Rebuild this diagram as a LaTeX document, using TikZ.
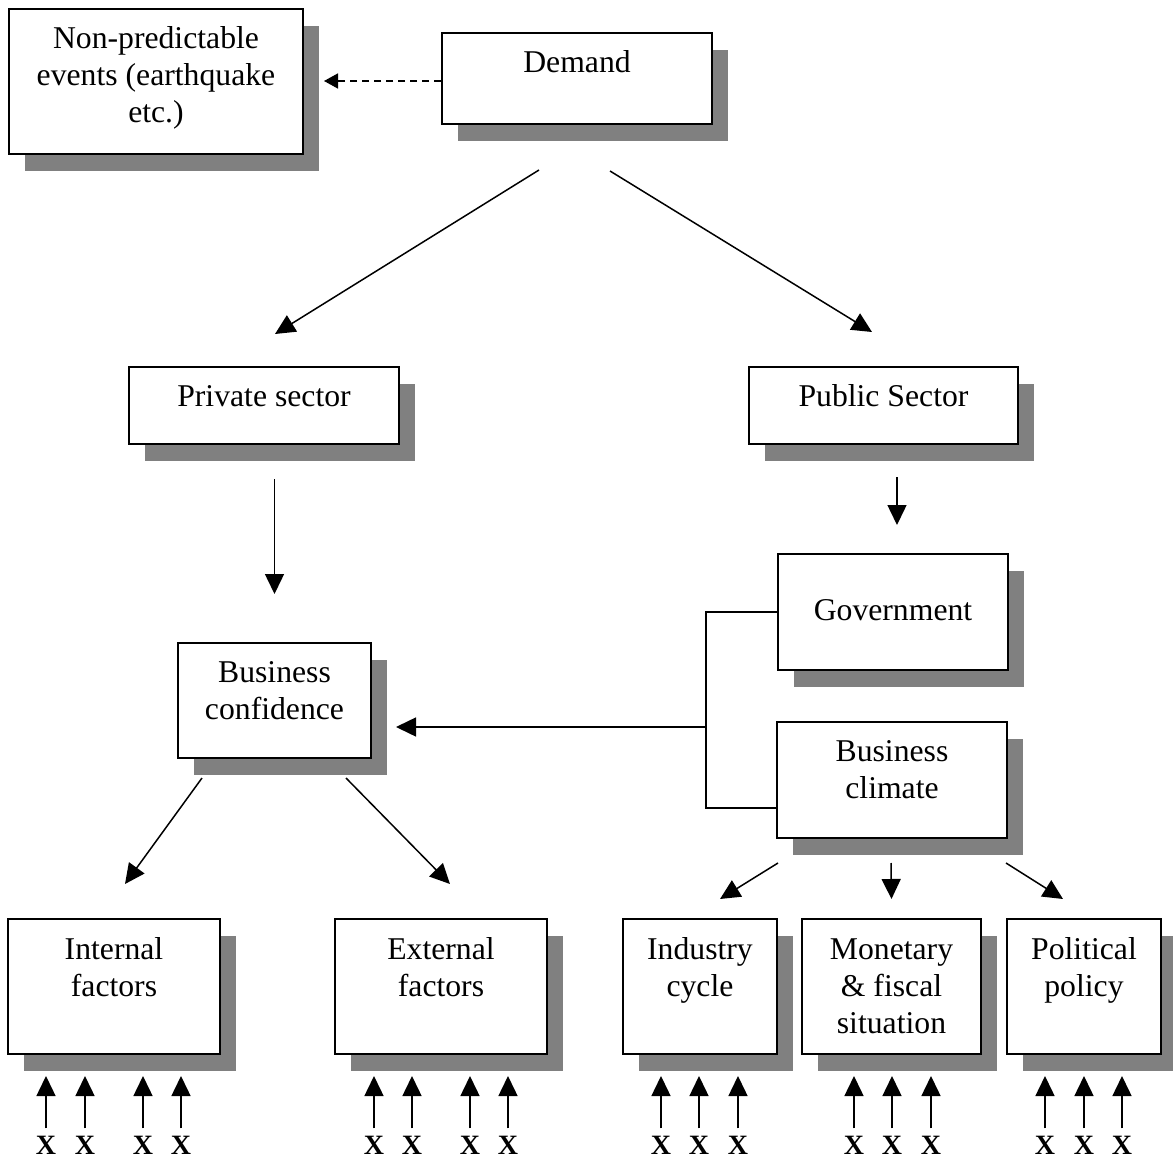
\documentclass[tikz,border=0pt]{standalone}
\usepackage{fontspec}
\setmainfont{Liberation Serif}[BoldFont={Liberation Serif Bold}]
\usetikzlibrary{arrows.meta}
\definecolor{shadowgray}{RGB}{128,128,128}

\tikzset{
  boxframe/.style={draw=black, line width=2pt, fill=white, inner sep=0pt},
  boxtext/.style={anchor=north, align=center, inner sep=0pt,
                  font=\fontsize{31.7}{37}\selectfont},
  arr/.style={line width=1.5pt, -{Triangle[length=20pt,width=19pt]}},
  dasharr/.style={line width=1.5pt, dash pattern=on 7pt off 5pt,
                  -{Triangle[length=14pt,width=15pt]}},
  conn/.style={line width=2pt},
  xmark/.style={anchor=base, inner sep=0pt,
                font=\fontsize{28}{32}\selectfont\bfseries},
}

% box with drop shadow: name, x1, y1, x2, y2, text offset from top, text
\newcommand\flowbox[7]{%
  \fill[shadowgray] (#2+16,#3+17) rectangle (#4+16,#5+17);
  \node[boxframe, minimum width={(#4-#2)*1pt}, minimum height={(#5-#3)*1pt}]
       (#1) at ({(#2+#4)/2},{(#3+#5)/2}) {};
  \node[boxtext] (#1-text) at ([yshift=-#6pt]#1.north) {\strut #7};
}

\begin{document}
\begin{tikzpicture}[x=1pt, y=-1pt]
\useasboundingbox (0,0) rectangle (1173,1158);

% top row
\flowbox{events}{9}{9}{303}{154}{14.6}{Non-predictable\\events (earthquake\\etc.)}
\flowbox{demand}{442}{33}{712}{124}{14.6}{Demand}

% sectors
\flowbox{private}{129}{367}{399}{444}{14.6}{Private sector}
\flowbox{public}{749}{367}{1018}{444}{14.6}{Public Sector}

% middle level
\flowbox{gov}{778}{554}{1008}{670}{41.1}{Government}
\flowbox{busconf}{178}{643}{371}{758}{14.6}{Business\\confidence}
\flowbox{climate}{777}{722}{1007}{838}{14.6}{Business\\climate}

% bottom row
\flowbox{intf}{8}{919}{220}{1054}{15.6}{Internal\\factors}
\flowbox{extf}{335}{919}{547}{1054}{15.6}{External\\factors}
\flowbox{industry}{623}{919}{777}{1054}{15.6}{Industry\\cycle}
\flowbox{monetary}{802}{919}{981}{1054}{15.6}{Monetary\\\& fiscal\\situation}
\flowbox{political}{1007}{919}{1161}{1054}{15.6}{Political\\policy}

% dashed link to unpredictable events
\draw[dasharr, shorten >=20pt] ([yshift=-2.5pt]demand.west) -- ([yshift=-2.5pt]demand.west -| events.east);

% demand splits into the two sectors
\draw[arr] ([xshift=-38pt,yshift=-45pt]demand.south) -- ([xshift=11pt,yshift=32pt]private.north);
\draw[arr] ([xshift=33pt,yshift=-46pt]demand.south) -- ([xshift=-11.5pt,yshift=34pt]public.north);

% private sector to business confidence
\draw[arr] ([yshift=-34pt]busconf.north |- private.south) -- ([yshift=48pt]busconf.north);

% public sector to government
\draw[arr] ([xshift=4pt,yshift=76pt]gov.north) -- ([xshift=4pt,yshift=28pt]gov.north);

% government and business climate feed business confidence
\coordinate (jn) at (706,727);
\draw[conn] (gov.west) -| (jn) |- ([yshift=-28pt]climate.west);
\draw[arr, shorten >=24pt] (jn) -- (jn -| busconf.east);

% business confidence to internal / external factors
\draw[arr] ([xshift=-72.5pt,yshift=-19pt]busconf.south) -- ([xshift=11pt,yshift=34pt]intf.north);
\draw[arr] ([xshift=71.5pt,yshift=-19pt]busconf.south) -- ([xshift=9pt,yshift=34pt]extf.north);

% business climate to its three drivers
\draw[arr] ([xshift=-114pt,yshift=-24pt]climate.south) -- ([xshift=20pt,yshift=19pt]industry.north);
\draw[arr] ([xshift=-1pt,yshift=-24pt]climate.south) -- ([yshift=19pt]monetary.north);
\draw[arr] ([xshift=114pt,yshift=-24pt]climate.south) -- ([xshift=-21pt,yshift=19pt]political.north);

% unnamed inputs under each bottom box
\foreach \px/\tgt [count=\i] in {46/intf, 85/intf, 143/intf, 181/intf,
                                 374/extf, 412/extf, 470/extf, 508/extf,
                                 661/industry, 699/industry, 738/industry,
                                 854/monetary, 892/monetary, 931/monetary,
                                 1045/political, 1084/political, 1122/political}{
  \node[xmark] (x\i) at (\px,1154) {X};
  \draw[arr, shorten >=21pt] ([yshift=7pt]x\i.north) -- (x\i.north |- \tgt.south);
}
\end{tikzpicture}
\end{document}
